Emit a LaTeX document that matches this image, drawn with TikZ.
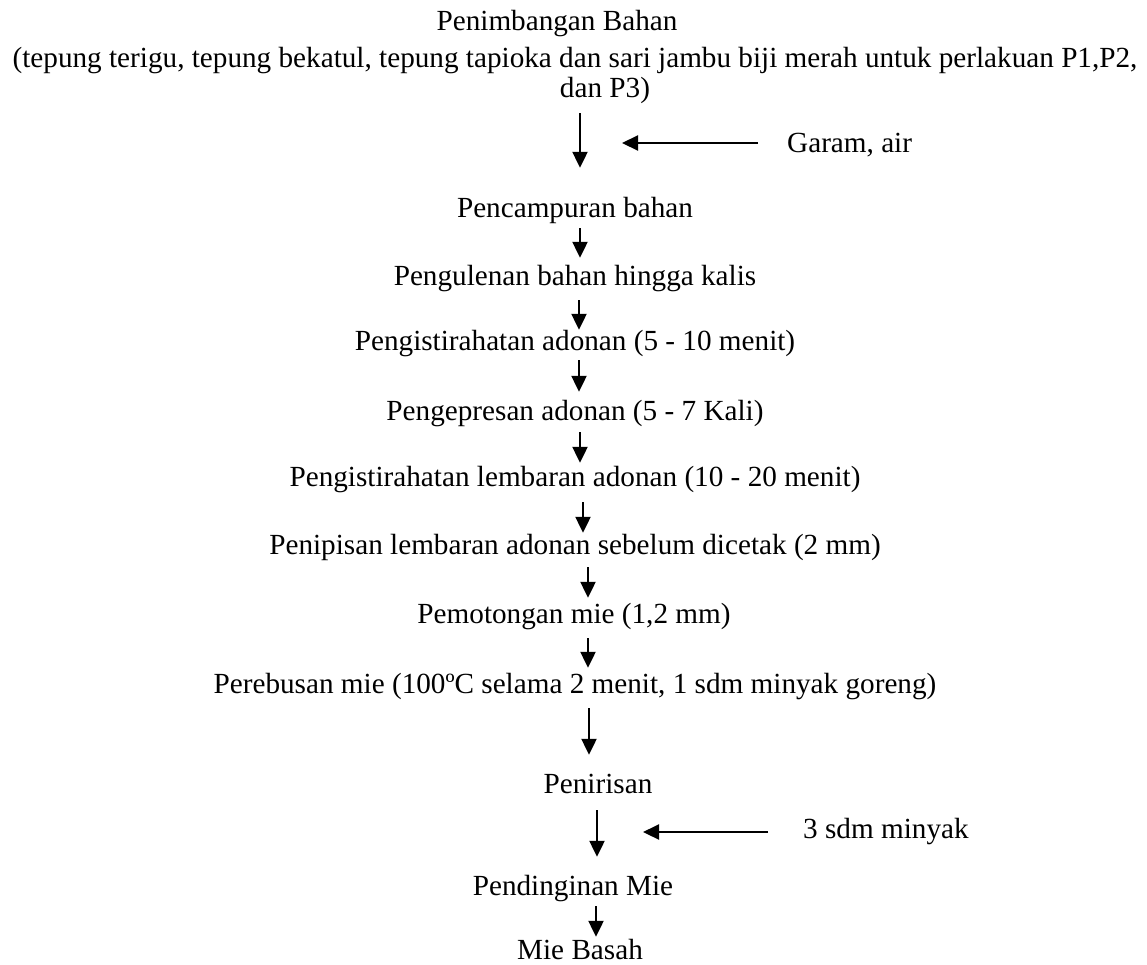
\documentclass[tikz,border=0pt]{standalone}
\usepackage{fontspec}
\setmainfont{Liberation Serif}
\usetikzlibrary{arrows.meta}
\begin{document}
\begin{tikzpicture}[x=1pt,y=-1pt,
  lbl/.style={inner sep=0pt, text height=20pt, text depth=7pt, anchor=base,
    font=\fontsize{29.2}{35}\selectfont},
  side/.style={lbl, anchor=base west},
  arr/.style={line width=2.2pt, -{Triangle[width=15pt,length=16pt]}}]
\useasboundingbox (0,0) rectangle (1147,964);
% texts
\node[lbl] (t1) at (557,30) {Penimbangan Bahan};
\node[lbl] (t2) at (575,67) {(tepung terigu, tepung bekatul, tepung tapioka dan sari jambu biji merah untuk perlakuan P1,P2,};
\node[lbl] (t3) at (605,97) {dan P3)};
\node[side] (garam) at (787,152) {Garam, air};
\node[lbl] (mix) at (575,217) {Pencampuran bahan};
\node[lbl] (knead) at (575,285) {Pengulenan bahan hingga kalis};
\node[lbl] (rest1) at (575,350) {Pengistirahatan adonan (5 - 10 menit)};
\node[lbl] (press) at (575,420) {Pengepresan adonan (5 - 7 Kali)};
\node[lbl] (sheet) at (575,486) {Pengistirahatan lembaran adonan (10 - 20 menit)};
\node[lbl] (thin) at (575,554) {Penipisan lembaran adonan sebelum dicetak (2 mm)};
\node[lbl] (cut) at (574,623) {Pemotongan mie (1,2 mm)};
\node[lbl] (boil) at (575,693) {Perebusan mie (100ºC selama 2 menit, 1 sdm minyak goreng)};
\node[lbl] (drain) at (598,793) {Penirisan};
\node[side] (oil) at (803,838) {3 sdm minyak};
\node[lbl] (cool) at (573,895) {Pendinginan Mie};
\node[lbl, text depth=1pt] (wet) at (580,959) {Mie Basah};
% free ends of side arrows
\coordinate (g1) at (622,143);
\coordinate (m1) at (643,832);
% main flow
\draw[arr, shorten <=9pt, shorten >=29pt] (t3.south -| 580,0) -- (mix.north -| 580,0);
\draw[arr, shorten <=4pt, shorten >=7pt] (mix.south -| 580,0) -- (knead.north -| 580,0);
\draw[arr, shorten <=8pt, shorten >=0pt] (knead.south -| 579,0) -- (rest1.north -| 579,0);
\draw[arr, shorten <=3pt, shorten >=8pt] (rest1.south -| 579,0) -- (press.north -| 579,0);
\draw[arr, shorten <=5pt, shorten >=3pt] (press.south -| 580,0) -- (sheet.north -| 580,0);
\draw[arr, shorten <=9pt, shorten >=1pt] (sheet.south -| 583,0) -- (thin.north -| 583,0);
\draw[arr, shorten <=6pt, shorten >=5pt] (thin.south -| 588,0) -- (cut.north -| 588,0);
\draw[arr, shorten <=8pt, shorten >=5pt] (cut.south -| 588,0) -- (boil.north -| 588,0);
\draw[arr, shorten <=8pt, shorten >=18pt] (boil.south -| 589,0) -- (drain.north -| 589,0);
\draw[arr, shorten <=10pt, shorten >=18pt] (drain.south -| 597,0) -- (cool.north -| 597,0);
\draw[arr, shorten <=4pt, shorten >=2pt] (cool.south -| 596,0) -- (wet.north -| 596,0);
% side inputs
\draw[arr, shorten <=29pt] (garam.west |- g1) -- (g1);
\draw[arr, shorten <=35pt] (oil.west |- m1) -- (m1);
\end{tikzpicture}
\end{document}
